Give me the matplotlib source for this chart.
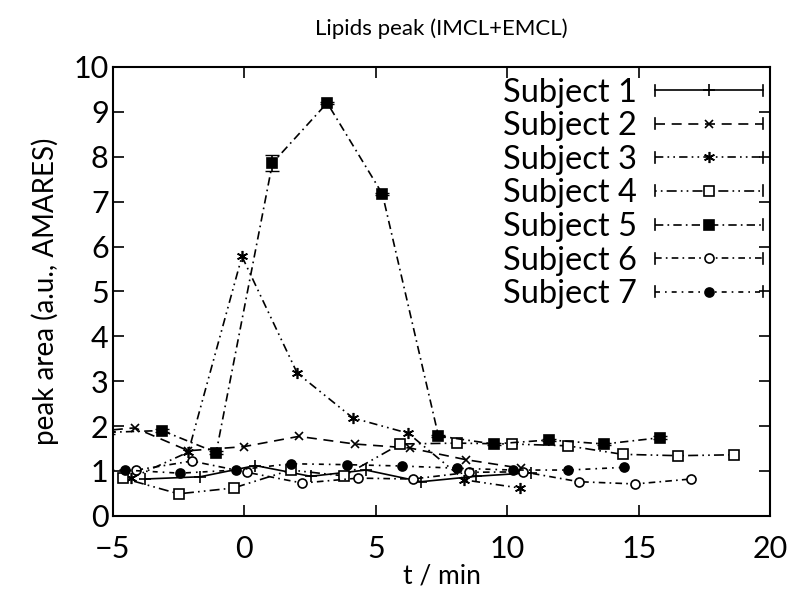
import matplotlib
matplotlib.use("Agg")
import matplotlib.pyplot as plt
from matplotlib.legend_handler import HandlerLine2D
from matplotlib.lines import Line2D
import numpy as np

plt.rcParams["font.family"] = ["Lato", "DejaVu Sans"]

# time points (min) and peak areas per subject
t1 = [-3.78, -1.68, 0.42, 2.52, 4.62, 6.72, 8.80, 10.90]
v1 = [0.82, 0.87, 1.12, 0.88, 1.02, 0.76, 0.88, 0.96]

t2 = [-6.26, -4.16, -2.13, -0.03, 2.07, 4.20, 6.30, 8.43, 10.53]
v2 = [1.85, 1.96, 1.45, 1.54, 1.77, 1.60, 1.51, 1.25, 1.06]

t3 = [-4.30, -2.13, -0.09, 2.01, 4.13, 6.23, 8.37, 10.47]
v3 = [0.84, 1.42, 5.78, 3.18, 2.18, 1.84, 0.80, 0.62]

t4 = [-4.62, -2.50, -0.41, 1.76, 3.79, 5.93, 8.09, 10.18, 12.29, 14.38, 16.49, 18.61]
v4 = [0.84, 0.49, 0.62, 1.02, 0.89, 1.60, 1.62, 1.60, 1.56, 1.37, 1.34, 1.36]

t5 = [-5.20, -3.13, -1.07, 1.07, 3.15, 5.25, 7.38, 9.48, 11.58, 13.69, 15.81]
v5 = [1.86, 1.90, 1.41, 7.86, 9.20, 7.17, 1.78, 1.60, 1.69, 1.60, 1.74]
e5 = [0.03, 0.03, 0.03, 0.17, 0.03, 0.03, 0.03, 0.03, 0.03, 0.03, 0.03]

t6 = [-4.10, -2.00, 0.10, 2.20, 4.33, 6.40, 8.56, 10.60, 12.72, 14.86, 16.98]
v6 = [1.02, 1.22, 0.97, 0.73, 0.84, 0.82, 0.97, 0.98, 0.76, 0.71, 0.82]

t7 = [-6.65, -4.54, -2.44, -0.31, 1.76, 3.89, 5.98, 8.09, 10.20, 12.32, 14.44]
v7 = [1.00, 1.02, 0.95, 1.02, 1.16, 1.14, 1.11, 1.06, 1.02, 1.02, 1.08]

labels = ["Subject 1", "Subject 2", "Subject 3", "Subject 4",
          "Subject 5", "Subject 6", "Subject 7"]

series = [(t1, v1, None), (t2, v2, None), (t3, v3, None), (t4, v4, None),
          (t5, v5, e5), (t6, v6, None), (t7, v7, None)]

styles = [
    dict(ls="-", marker="+", ms=9, mfc="black"),
    dict(ls=(0, (6, 4)), marker="x", ms=6, mfc="black"),
    dict(ls=(0, (5, 2.5, 1, 2.5, 1, 2.5)), marker=(6, 2, 0), ms=8, mfc="black"),
    dict(ls=(0, (1, 2.5, 1, 2.5, 6, 2.5)), marker="s", ms=6.5, mfc="white"),
    dict(ls=(0, (5, 2.5, 1, 2.5)), marker="s", ms=6.5, mfc="black"),
    dict(ls=(0, (4, 2.5, 1, 2.5)), marker="o", ms=6.5, mfc="white"),
    dict(ls=(0, (3, 3, 1, 3)), marker="o", ms=6.5, mfc="black"),
]


class CapHandler(HandlerLine2D):
    # gnuplot style legend sample with end caps
    def create_artists(self, legend, orig_handle, xdescent, ydescent,
                       width, height, fontsize, trans):
        arts = super().create_artists(legend, orig_handle, xdescent, ydescent,
                                      width, height, fontsize, trans)
        y = height / 2 - ydescent
        for x in (-xdescent, width - xdescent):
            arts.append(Line2D([x, x], [y - 4, y + 4], color="black",
                               lw=1.2, transform=trans))
        return arts


fig = plt.figure(figsize=(8, 6.09), dpi=100)
ax = fig.add_axes([0.141, 0.153, 0.822, 0.737])

handles = []
for (t, v, e), st, lab in zip(series, styles, labels):
    (line,) = ax.plot(t, v, color="black", lw=1.2, linestyle=st["ls"],
                      marker=st["marker"], ms=st["ms"], mfc=st["mfc"],
                      mec="black", mew=1.2, label=lab)
    if e is not None:
        ax.errorbar(t, v, yerr=e, fmt="none", ecolor="black",
                    elinewidth=1.2, capsize=5)
    handles.append(line)

ax.set_xlim(-5, 20)
ax.set_ylim(0, 10)
ax.set_xticks(np.arange(-5, 21, 5))
ax.set_yticks(np.arange(0, 11, 1))
ax.set_xticklabels(["\u22125", "0", "5", "10", "15", "20"])
ax.tick_params(direction="in", length=8, width=1.2, labelsize=22,
               top=True, right=True)
ax.tick_params(axis="x", pad=14)
ax.tick_params(axis="y", pad=3)
for sp in ax.spines.values():
    sp.set_linewidth(1.5)

ax.set_xlabel("t / min", fontsize=19, labelpad=0)
ax.set_ylabel("peak area (a.u., AMARES)", fontsize=20, labelpad=10)
ax.set_title("Lipids peak (IMCL+EMCL)", fontsize=16, pad=23)

ax.legend(handles=handles, loc="upper right", bbox_to_anchor=(1.018, 1.02),
          frameon=False, markerfirst=False, numpoints=1, fontsize=23.5,
          handlelength=3.3, handletextpad=0.55, labelspacing=0.11,
          borderaxespad=0.2, handler_map={Line2D: CapHandler()})

fig.savefig("out.png", dpi=100)
